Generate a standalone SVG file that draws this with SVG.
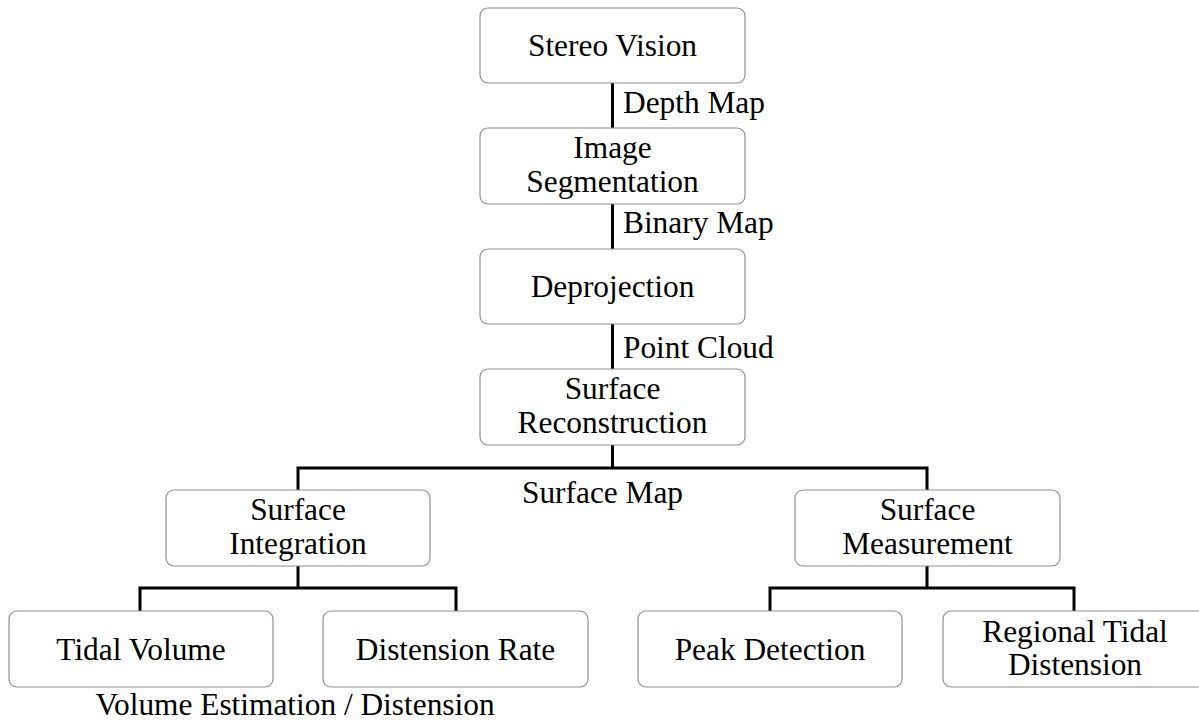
<svg xmlns="http://www.w3.org/2000/svg" width="1199" height="723" viewBox="0 0 1199 723">
<style>
.box{fill:#fff;stroke:#909090;stroke-width:1.2}
.t{font-family:"Liberation Serif","Times New Roman",serif;font-size:32px;fill:#000}
.c{text-anchor:middle}
.conn{fill:none;stroke:#000;stroke-width:3}
</style>
<rect width="1199" height="723" fill="#fff"/>
<g id="connectors">
<line class="conn" x1="612.5" y1="83" x2="612.5" y2="128"/>
<line class="conn" x1="612.5" y1="204" x2="612.5" y2="249"/>
<line class="conn" x1="612.5" y1="324" x2="612.5" y2="369"/>
<path class="conn" d="M612.5 445V468M298 490V468H927V490"/>
<path class="conn" d="M298 566V588M140 611V588H456V611"/>
<path class="conn" d="M927 566V588M770 611V588H1074V611"/>
<text class="t" transform="matrix(0.98 0 0 1 623 113)">Depth Map</text>
<text class="t" transform="matrix(0.98 0 0 1 623 233)">Binary Map</text>
<text class="t" transform="matrix(0.98 0 0 1 623 358)">Point Cloud</text>
<text class="t" transform="matrix(0.98 0 0 1 522 503)">Surface Map</text>
<text class="t c" transform="matrix(0.98 0 0 1 295 715)">Volume Estimation / Distension</text>
</g>
<g id="stereo-vision"><rect class="box" x="480" y="8" width="265" height="75" rx="8"/><text class="t c" transform="matrix(0.98 0 0 1 612.5 56)">Stereo Vision</text></g>
<g id="image-segmentation"><rect class="box" x="480" y="128" width="265" height="76" rx="8"/><text class="t c" transform="matrix(0.98 0 0 1 612.5 158)">Image</text><text class="t c" transform="matrix(0.98 0 0 1 612.5 192)">Segmentation</text></g>
<g id="deprojection"><rect class="box" x="480" y="249" width="265" height="75" rx="8"/><text class="t c" transform="matrix(0.98 0 0 1 612.5 297)">Deprojection</text></g>
<g id="surface-reconstruction"><rect class="box" x="480" y="369" width="265" height="76" rx="8"/><text class="t c" transform="matrix(0.98 0 0 1 612.5 399)">Surface</text><text class="t c" transform="matrix(0.98 0 0 1 612.5 433)">Reconstruction</text></g>
<g id="surface-integration"><rect class="box" x="166" y="490" width="264" height="76" rx="8"/><text class="t c" transform="matrix(0.98 0 0 1 298 520)">Surface</text><text class="t c" transform="matrix(0.98 0 0 1 298 554)">Integration</text></g>
<g id="surface-measurement"><rect class="box" x="795" y="490" width="265" height="76" rx="8"/><text class="t c" transform="matrix(0.98 0 0 1 927.5 520)">Surface</text><text class="t c" transform="matrix(0.98 0 0 1 927.5 554)">Measurement</text></g>
<g id="tidal-volume"><rect class="box" x="9" y="611" width="264" height="76" rx="8"/><text class="t c" transform="matrix(0.98 0 0 1 141 660)">Tidal Volume</text></g>
<g id="distension-rate"><rect class="box" x="323" y="611" width="265" height="76" rx="8"/><text class="t c" transform="matrix(0.98 0 0 1 455.5 660)">Distension Rate</text></g>
<g id="peak-detection"><rect class="box" x="638" y="611" width="264" height="76" rx="8"/><text class="t c" transform="matrix(0.98 0 0 1 770 660)">Peak Detection</text></g>
<g id="regional-tidal-distension"><rect class="box" x="943" y="611" width="265" height="76" rx="8"/><text class="t c" transform="matrix(0.98 0 0 1 1075 642)">Regional Tidal</text><text class="t c" transform="matrix(0.98 0 0 1 1075 675)">Distension</text></g>
</svg>
